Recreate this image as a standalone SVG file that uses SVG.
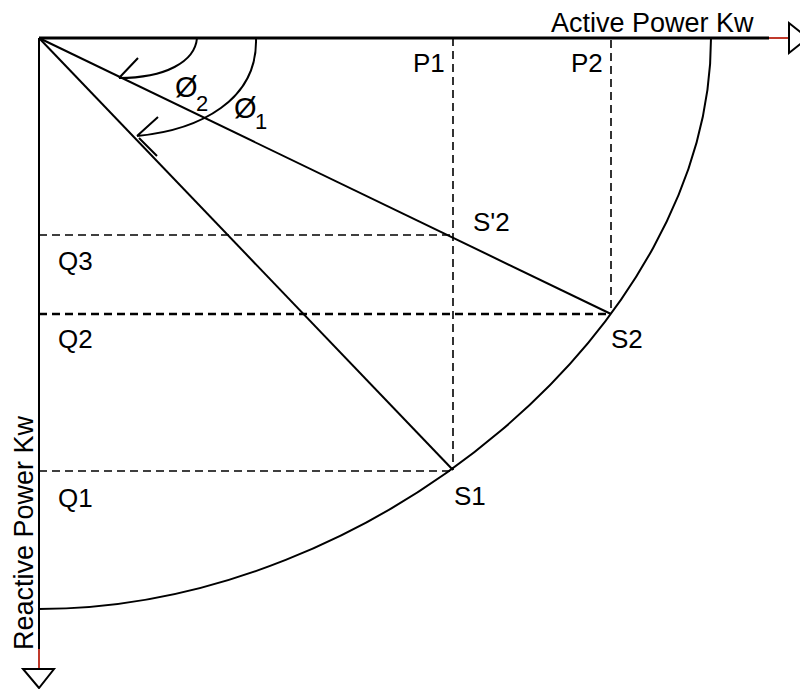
<svg xmlns="http://www.w3.org/2000/svg" width="800" height="689" viewBox="0 0 800 689">
<style>
text{font-family:"Liberation Sans",Arial,sans-serif;fill:#000}
.lbl{font-size:26px}
.ax{font-size:27px}
.phi{font-size:29px}
.sub{font-size:22px}
.ln{stroke:#000;stroke-width:2;fill:none}
.dash{stroke:#000;stroke-width:1.6;stroke-dasharray:8 5;fill:none}
.red{stroke:#c0392b;stroke-width:2;fill:none}
.tri{stroke:#000;stroke-width:2;fill:#fff}
</style>
<rect width="800" height="689" fill="#fff"/>
<g id="connectors">
<line class="dash" x1="453" y1="38" x2="453" y2="470"/>
<line class="dash" x1="611" y1="40" x2="611" y2="314"/>
<line class="dash" x1="39" y1="235" x2="453" y2="235"/>
<line class="dash" x1="39" y1="314" x2="611" y2="314" style="stroke-width:2.4"/>
<line class="dash" x1="39" y1="471" x2="453" y2="471"/>
<line class="ln" x1="39" y1="38" x2="453" y2="470"/>
<line class="ln" x1="39" y1="38" x2="611" y2="314"/>
<path class="ln" d="M711,38 C711,323.5 375,609 39,609"/>
<path class="ln" d="M197,38 C195,62 165,78 119,78 M119,78 L138,58"/>
<path class="ln" d="M256,38 C258,100 200,130 137,136 M137,136 L158,117 M139,138 L157,156"/>
</g>
<g id="axis-p">
<line class="ln" x1="39" y1="38" x2="769" y2="38" style="stroke-width:3"/>
<line class="red" x1="769" y1="38" x2="789" y2="38"/>
<polygon class="tri" points="789,23 789,53 808,38"/>
<text class="ax" x="551" y="31.5">Active Power Kw</text>
</g>
<g id="axis-q">
<line class="ln" x1="39" y1="38" x2="39" y2="649"/>
<line class="red" x1="39" y1="649" x2="39" y2="669"/>
<polygon class="tri" points="23,669 54,669 39,688"/>
<text class="ax" transform="translate(33,650) rotate(-90)">Reactive Power Kw</text>
</g>
<g id="P1"><text class="lbl" x="413" y="72">P1</text></g>
<g id="P2"><text class="lbl" x="571" y="72">P2</text></g>
<g id="S2p"><text class="lbl" x="473" y="231">S'2</text></g>
<g id="S2"><text class="lbl" x="611" y="348">S2</text></g>
<g id="S1"><text class="lbl" x="454" y="505">S1</text></g>
<g id="Q3"><text class="lbl" x="58" y="270">Q3</text></g>
<g id="Q2"><text class="lbl" x="58" y="348">Q2</text></g>
<g id="Q1"><text class="lbl" x="58" y="507">Q1</text></g>
<g id="phi2"><text class="phi" x="175" y="97">Ø</text><text class="sub" x="196" y="111">2</text></g>
<g id="phi1"><text class="phi" x="234" y="118">Ø</text><text class="sub" x="255" y="129">1</text></g>
</svg>
